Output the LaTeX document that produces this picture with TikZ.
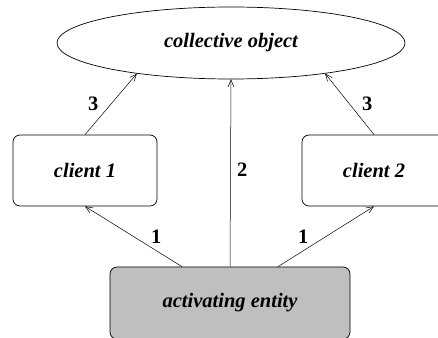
\documentclass[tikz,border=0pt]{standalone}
\usepackage{fontspec}
\setmainfont{Liberation Serif}
\usetikzlibrary{shapes.geometric,arrows.meta,positioning}

\begin{document}
\begin{tikzpicture}[
    x=1pt, y=-1pt,
    object/.style={ellipse, draw, line width=0.7pt, minimum width=348pt, minimum height=72pt, font=\fontsize{20.5}{24}\selectfont\bfseries\itshape},
    client/.style={rectangle, draw, line width=0.7pt, rounded corners=7pt, minimum width=144pt, minimum height=71pt, font=\fontsize{20.5}{24}\selectfont\bfseries\itshape},
    entity/.style={rectangle, draw, fill=black!25, line width=0.7pt, rounded corners=7pt, minimum width=240pt, minimum height=72pt, font=\fontsize{20.5}{24}\selectfont\bfseries\itshape},
    order/.style={font=\fontsize{20.5}{24}\selectfont\bfseries},
    line/.style={draw, line width=0.5pt, -{Straight Barb[length=7pt,width=6pt]}}
]
\useasboundingbox (0,0) rectangle (438,337);

\node [object] (obj) at (231,43) {collective object};
\node [client] (client1) at (85,170.5) {client 1};
\node [client] (client2) at (374,170.5) {client 2};
\node [entity] (act) at (230,303) {activating entity};

\path [line] ([xshift=-48pt]act.north) -- node [order, right=14pt] {1} (client1.south);
\path [line] ([xshift=48pt]act.north) -- node [order, left=14pt] {1} (client2.south);
\path [line] (act.north) -- node [order, right=3pt, pos=0.52] {2} (obj.south);
\path [line] (client1.north) -- node [order, left=9pt] {3} (obj.198);
\path [line] (client2.north) -- node [order, right=9pt] {3} (obj.342);

\end{tikzpicture}
\end{document}
